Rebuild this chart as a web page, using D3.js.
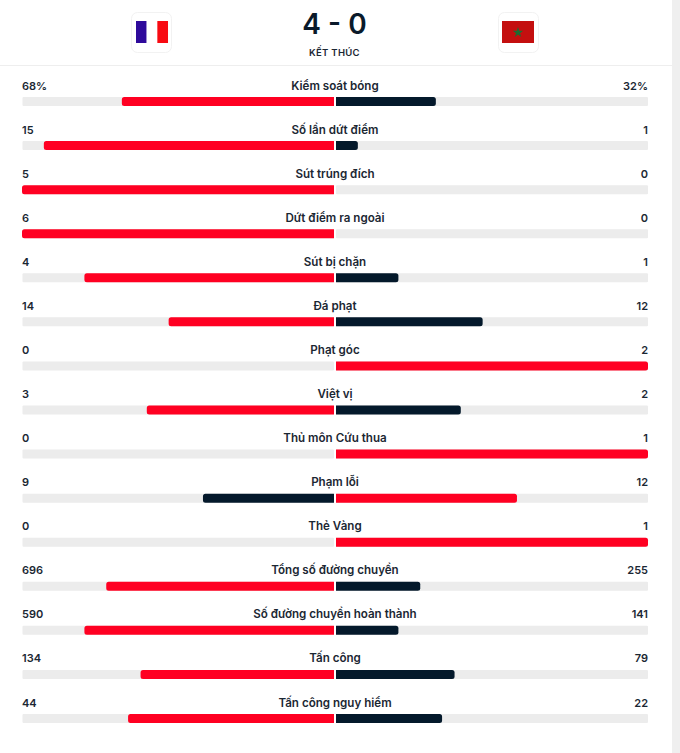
<!DOCTYPE html>
<html lang="vi">
<head>
<meta charset="utf-8">
<script src="https://cdn.jsdelivr.net/npm/d3@7"></script>
<style>
html, body { margin: 0; padding: 0; background: #fff; overflow: hidden; }
svg { display: block; font-family: Inter, "Noto Sans", sans-serif; }
.label { font-size: 11.6px; font-weight: 600; fill: #1b2733; }
.value { font-size: 11px; font-weight: 600; fill: #1b2733; }
</style>
</head>
<body>
<div id="chart"></div>
<script>
// Du lieu
const statNames = ["Kiểm soát bóng", "Số lần dứt điểm", "Sút trúng đích", "Dứt điểm ra ngoài", "Sút bị chặn", "Đá phạt", "Phạt góc", "Việt vị", "Thủ môn Cứu thua", "Phạm lỗi", "Thẻ Vàng", "Tổng số đường chuyền", "Số đường chuyền hoàn thành", "Tấn công", "Tấn công nguy hiểm"];
const homeValues = [68, 15, 5, 6, 4, 14, 0, 3, 0, 9, 0, 696, 590, 134, 44];
const awayValues = [32, 1, 0, 0, 1, 12, 2, 2, 1, 12, 1, 255, 141, 79, 22];
const percentRows = ["Kiểm soát bóng"];
const score = "4 - 0";
const matchStatus = "KẾT THÚC";

const width = 680, height = 753;
const red = "#ff0022", navy = "#04192b", track = "#ececec";
const barH = 9;

const svg = d3.select("#chart").append("svg")
    .attr("width", width)
    .attr("height", height);

// Thanh cuon ben phai
svg.append("rect").attr("x", 672).attr("y", 0).attr("width", 8).attr("height", height).attr("fill", "#efefef");

// Header
svg.append("rect").attr("x", 0).attr("y", 65).attr("width", 672).attr("height", 1).attr("fill", "#eeeeee");

svg.append("text")
    .attr("x", 334.5).attr("y", 34)
    .attr("text-anchor", "middle")
    .style("font-size", "28px").style("font-weight", 600)
    .attr("fill", "#0a1a2a")
    .text(score);

svg.append("text")
    .attr("x", 334.5).attr("y", 56)
    .attr("text-anchor", "middle")
    .style("font-size", "9.5px").style("font-weight", 600)
    .style("letter-spacing", "0.3px")
    .attr("fill", "#1b2733")
    .text(matchStatus);

// Khung co
[131, 498].forEach(x => {
    svg.append("rect")
        .attr("x", x + 0.5).attr("y", 12.5)
        .attr("width", 40).attr("height", 40).attr("rx", 6)
        .attr("fill", "#fff").attr("stroke", "#f2f2f2");
});

// Co Phap
[["#2e0a9b", 0], ["#ffffff", 1], ["#f80a12", 2]].forEach(([color, i]) => {
    svg.append("rect")
        .attr("x", 136 + i * 10.67).attr("y", 21)
        .attr("width", 10.67).attr("height", 22)
        .attr("fill", color);
});

// Co Maroc
svg.append("rect").attr("x", 502).attr("y", 21).attr("width", 32).attr("height", 22).attr("fill", "#c40f0f");
svg.append("path")
    .attr("transform", "translate(518,32.5)")
    .attr("d", d3.symbol(d3.symbolStar, 34)())
    .attr("fill", "#1f6b32");

// Skala
const y = d3.scalePoint()
    .domain(statNames)
    .range([97, 714]);

// Ty le tinh theo phan tram lam tron xuong cua doi nha
const share = d3.scaleLinear()
    .domain([0, 100])
    .range([0, 312]);

const homePct = i => Math.floor(100 * homeValues[i] / (homeValues[i] + awayValues[i]));

const leftEdge = 22.5, centerL = 334, centerR = 336;

// Thanh bo goc o dau ngoai, dau giua vuong. dir = -1 sang trai, 1 sang phai
function barPath(x0, w, dir) {
    if (w <= 0) return "";
    const r = 2.5;
    const x1 = x0 + dir * w;
    const sweep = dir > 0 ? 1 : 0;
    return `M${x0},0H${x1 - dir * r}A${r},${r} 0 0 ${sweep} ${x1},${r}V${barH - r}A${r},${r} 0 0 ${sweep} ${x1 - dir * r},${barH}H${x0}Z`;
}

const rows = svg.selectAll(".row")
    .data(statNames)
    .enter().append("g")
    .attr("class", "row")
    .attr("transform", d => `translate(0,${y(d)})`);

// Nen thanh
rows.append("rect")
    .attr("x", leftEdge).attr("y", 0)
    .attr("width", centerL - leftEdge).attr("height", barH)
    .attr("rx", 1).attr("fill", track);
rows.append("rect")
    .attr("x", centerR).attr("y", 0)
    .attr("width", 648 - centerR).attr("height", barH)
    .attr("rx", 1).attr("fill", track);

// Thanh gia tri: ben nhieu hon mau do
rows.append("path")
    .attr("d", (d, i) => barPath(centerL, share(homePct(i)), -1))
    .attr("fill", (d, i) => homeValues[i] >= awayValues[i] ? red : navy);
rows.append("path")
    .attr("d", (d, i) => barPath(centerR, share(100 - homePct(i)), 1))
    .attr("fill", (d, i) => awayValues[i] > homeValues[i] ? red : navy);

// Label
rows.append("text")
    .attr("class", "label")
    .attr("x", 335).attr("y", -7.5)
    .attr("text-anchor", "middle")
    .text(d => d);
rows.append("text")
    .attr("class", "value")
    .attr("x", 22).attr("y", -7.5)
    .text((d, i) => homeValues[i] + (percentRows.includes(d) ? "%" : ""));
rows.append("text")
    .attr("class", "value")
    .attr("x", 648).attr("y", -7.5)
    .attr("text-anchor", "end")
    .text((d, i) => awayValues[i] + (percentRows.includes(d) ? "%" : ""));
</script>
</body>
</html>
